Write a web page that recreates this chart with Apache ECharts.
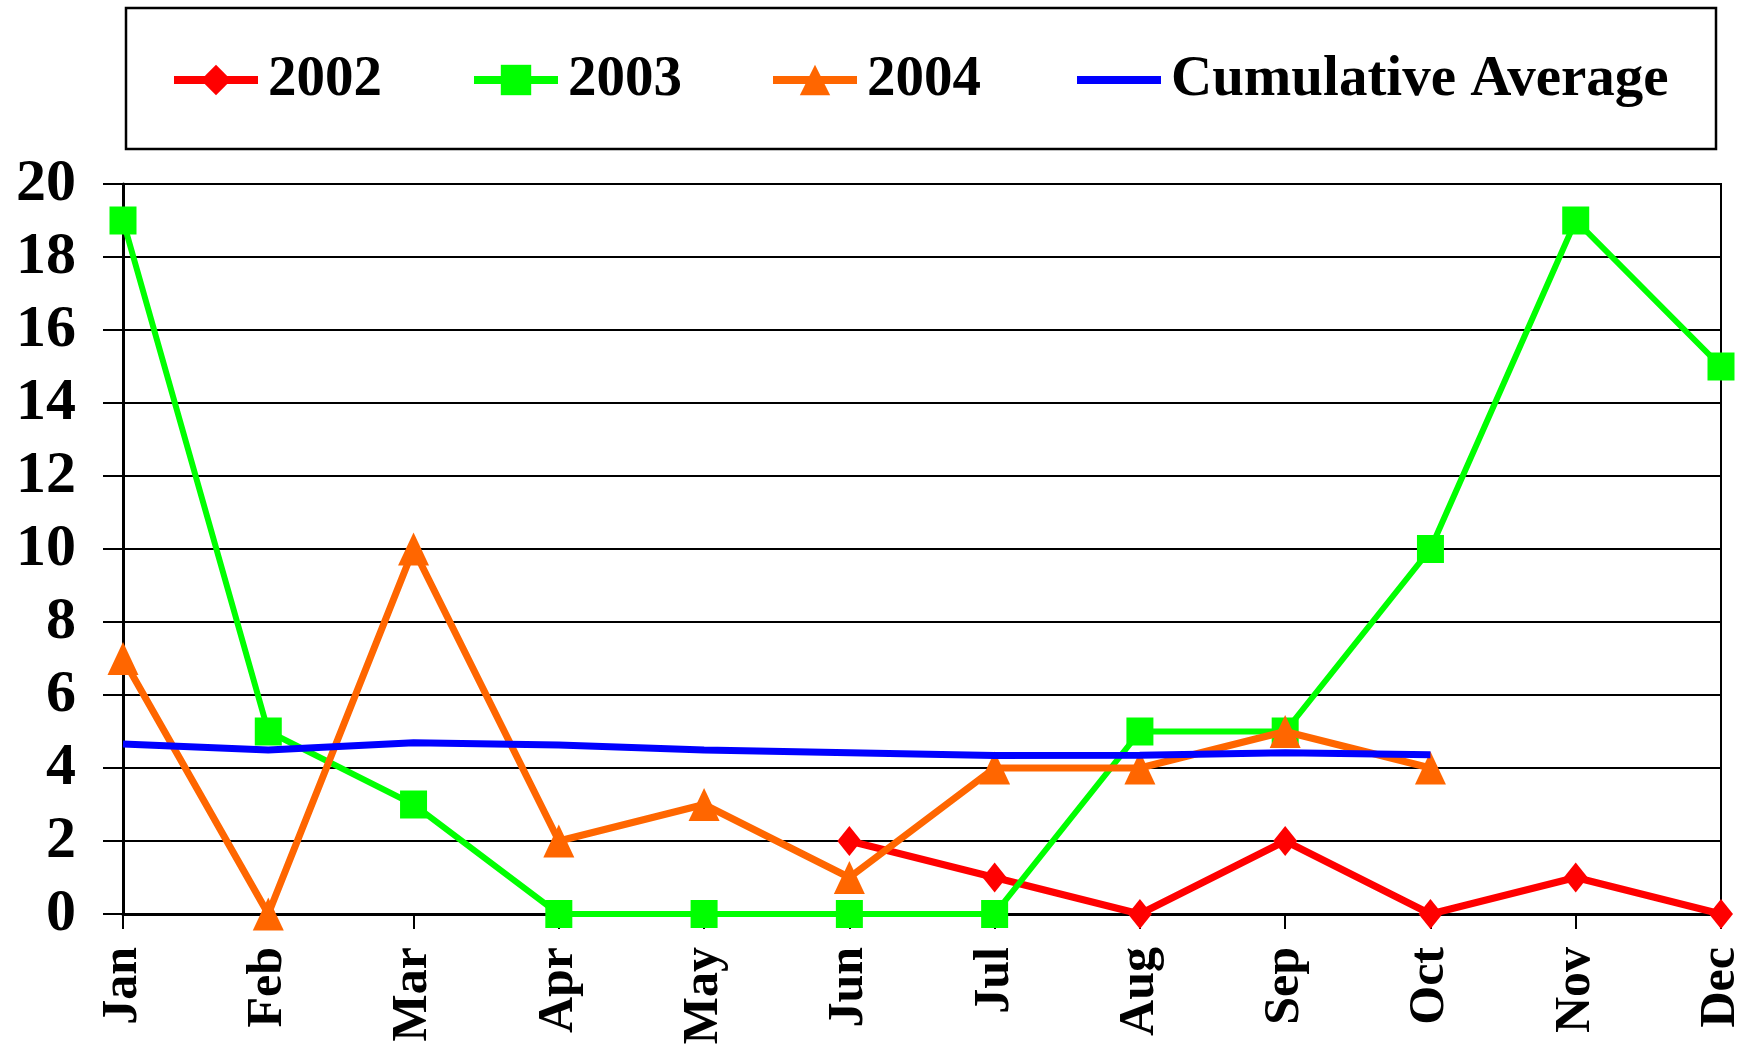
<!DOCTYPE html>
<html>
<head>
<meta charset="utf-8">
<script src="https://cdn.jsdelivr.net/npm/echarts@6/dist/echarts.min.js"></script>
<style>
html,body{margin:0;padding:0;background:#fff;}
#chart{width:1751px;height:1045px;}
</style>
</head>
<body>
<div id="chart"></div>
<script>
const months = ['Jan','Feb','Mar','Apr','May','Jun','Jul','Aug','Sep','Oct','Nov','Dec'];
const s2002 = [null,null,null,null,null,2,1,0,2,0,1,0];
const s2003 = [19,5,3,0,0,0,0,5,5,10,19,15];
const s2004 = [7,0,10,2,3,1,4,4,5,4,null,null];
const cumAvg = [4.66,4.49,4.69,4.63,4.49,4.42,4.34,4.35,4.42,4.36,null,null];
const seriesNames = ['2002','2003','2004','Cumulative Average'];
const yTicks = [0,2,4,6,8,10,12,14,16,18,20];

const FONT = '"Liberation Serif","Times New Roman",serif';
const chart = echarts.init(document.getElementById('chart'), null, {renderer:'canvas'});

function legendAt(name, left, extra){
  const l = {
    data:[name], left:left, top:48, orient:'horizontal', padding:0,
    itemWidth:84, itemHeight:38, selectedMode:false,
    lineStyle:{width:8},
    textStyle:{fontFamily:FONT, fontWeight:'bold', fontSize:57, color:'#000', padding:[0,0,0,5], lineHeight:64}
  };
  return Object.assign(l, extra || {});
}

chart.setOption({
  animation:false,
  backgroundColor:'#fff',
  graphic:[{type:'rect', shape:{x:126, y:8, width:1590, height:141}, style:{fill:'none', stroke:'#000', lineWidth:2.5}, z:0}],
  legend:[
    legendAt(seriesNames[0],170),
    legendAt(seriesNames[1],470),
    legendAt(seriesNames[2],769),
    legendAt(seriesNames[3],1073,{itemStyle:{opacity:0}})
  ],
  grid:{left:123, right:30, top:184, bottom:131, show:true, borderColor:'#000', borderWidth:2,
        backgroundColor:'transparent', containLabel:false, outerBoundsMode:'none'},
  xAxis:{
    type:'category', data:months, boundaryGap:false,
    axisLine:{show:true, onZero:true, lineStyle:{color:'#000', width:3}},
    axisTick:{show:true, alignWithLabel:true, length:15, lineStyle:{color:'#000', width:2}},
    axisLabel:{rotate:90, margin:33, fontFamily:FONT, fontWeight:'bold', fontSize:50, color:'#000', interval:0},
    splitLine:{show:false}
  },
  yAxis:{
    type:'value', min:0, max:20, interval:2,
    axisLine:{show:true, lineStyle:{color:'#000', width:3}},
    axisTick:{show:true, length:20, lineStyle:{color:'#000', width:2}},
    axisLabel:{margin:47, fontFamily:FONT, fontWeight:'bold', fontSize:60, color:'#000',
      formatter:function(v){ return yTicks.indexOf(v) >= 0 ? String(v) : ''; }},
    splitLine:{show:true, lineStyle:{color:'#000', width:2}}
  },
  series:[
    {name:seriesNames[0], type:'line', data:s2002, symbol:'diamond', symbolSize:[24,30], showAllSymbol:true,
     lineStyle:{color:'#FF0000', width:7}, itemStyle:{color:'#FF0000'}, connectNulls:false, z:2},
    {name:seriesNames[1], type:'line', data:s2003, symbol:'rect', symbolSize:[27,28], showAllSymbol:true,
     lineStyle:{color:'#00FF00', width:6}, itemStyle:{color:'#00FF00'}, z:3},
    {name:seriesNames[2], type:'line', data:s2004, symbol:'triangle', symbolSize:[31,33], showAllSymbol:true,
     lineStyle:{color:'#FF6600', width:7}, itemStyle:{color:'#FF6600'}, z:4},
    {name:seriesNames[3], type:'line', data:cumAvg, symbol:'none', showSymbol:false,
     lineStyle:{color:'#0000FF', width:7}, itemStyle:{color:'#0000FF'}, z:5}
  ]
});
</script>
</body>
</html>
